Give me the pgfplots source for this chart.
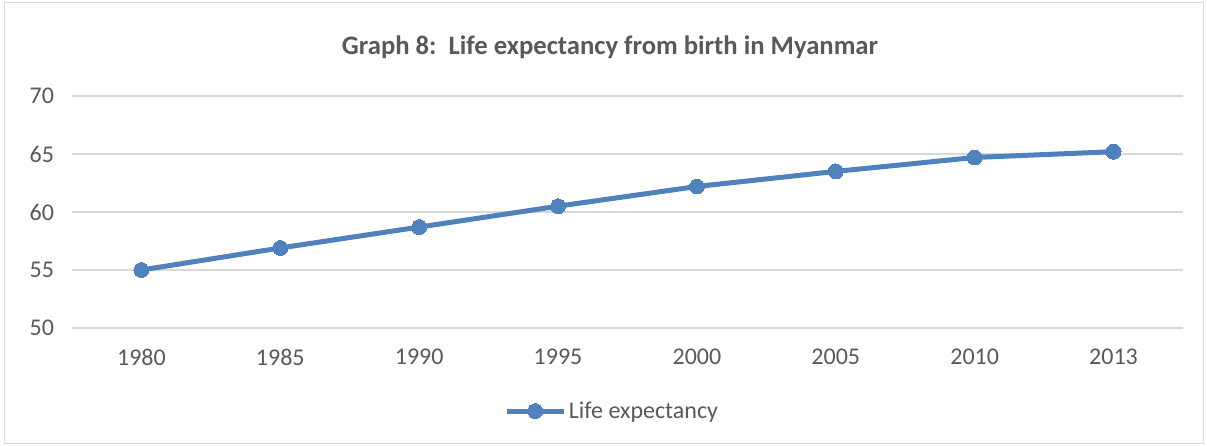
\documentclass[border=0pt]{standalone}
\usepackage{pgfplots}
\pgfplotsset{compat=1.18}
\usepackage{fontspec}
\setmainfont{Carlito}
\definecolor{lineblue}{RGB}{79,129,189}
\definecolor{txtgray}{RGB}{89,89,89}
\definecolor{gridgray}{RGB}{217,217,217}
\begin{document}
\begin{tikzpicture}[x=0.75pt,y=0.75pt]
  % bounding box in pixel units relative to the axis' lower left corner
  \useasboundingbox (-72,-118) rectangle (1135,328);
  \draw[gridgray,line width=0.75pt] (-67,-115) rectangle (1131,325);
  \node[txtgray,font=\fontsize{20}{24}\selectfont\bfseries] at (538,281) {Graph 8:\ \ Life expectancy from birth in Myanmar};
  \begin{axis}[
      scale only axis,
      width=833.25pt,
      height=174pt,
      xmin=-0.5, xmax=7.5,
      ymin=50, ymax=70,
      ytick={50,55,60,65,70},
      xtick={0,...,7},
      xticklabels={1980,1985,1990,1995,2000,2005,2010,2013},
      axis line style={draw=none},
      tick style={draw=none},
      ymajorgrids,
      grid style={gridgray,line width=0.9pt},
      tick label style={txtgray,font=\fontsize{18}{21}\selectfont},
      xticklabel style={yshift=-12pt},
      yticklabel style={xshift=-10pt},
      /pgf/number format/assume math mode=true,
      legend style={at={(0.4865,-0.358)},anchor=center,draw=none,
        font=\fontsize{18}{21}\selectfont,text=txtgray},
      legend image code/.code={
        \draw[mark repeat=2,mark phase=2,#1] plot coordinates {(0cm,0cm) (0.75cm,0cm) (1.5cm,0cm)};},
    ]
    \addplot[lineblue,line width=3.75pt,mark=*,mark size=5.6pt,
      mark options={solid,fill=lineblue,draw=lineblue,line width=0pt}]
      coordinates {(0,55.0) (1,56.9) (2,58.7) (3,60.5) (4,62.2) (5,63.5) (6,64.7) (7,65.2)};
    \legend{Life expectancy}
  \end{axis}
\end{tikzpicture}
\end{document}
